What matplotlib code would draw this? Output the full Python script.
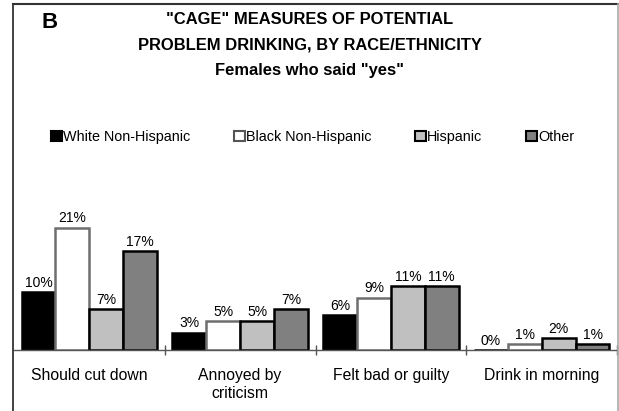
import matplotlib
matplotlib.use("Agg")
import matplotlib.pyplot as plt
import numpy as np
from matplotlib.patches import Rectangle
from matplotlib.lines import Line2D

plt.rcParams['font.family'] = ['Liberation Sans', 'DejaVu Sans']

# Share of females answering "yes" to each CAGE question (%)
questions = ["Should cut down", "Annoyed by\ncriticism", "Felt bad or guilty", "Drink in morning"]
groups = ["White Non-Hispanic", "Black Non-Hispanic", "Hispanic", "Other"]
white = [10, 3, 6, 0]
black = [21, 5, 9, 1]
hispanic = [7, 5, 11, 2]
other = [17, 7, 11, 1]

series = [white, black, hispanic, other]
fills = ["#000000", "#ffffff", "#c0c0c0", "#808080"]
edges = ["#000000", "#6e6e6e", "#000000", "#000000"]

fig = plt.figure(figsize=(6.19, 4.11), dpi=100)
W, H = 619, 411

# outer frame (open at the bottom)
fig.add_artist(Line2D([13 / W, 13 / W], [0, 1 - 4 / H], color="#222222", lw=1.2))
fig.add_artist(Line2D([13 / W, 618 / W], [1 - 4 / H, 1 - 4 / H], color="#333333", lw=1.5))
fig.add_artist(Line2D([618 / W, 618 / W], [0, 1 - 4 / H], color="#aaaaaa", lw=1.2))

fig.text(50 / W, 1 - 22 / H, "B", fontsize=16, fontweight="bold", ha="center", va="center")
title_lines = ['"CAGE" MEASURES OF POTENTIAL',
               'PROBLEM DRINKING, BY RACE/ETHNICITY',
               'Females who said "yes"']
for k, line in enumerate(title_lines):
    fig.text(0.5, 1 - (20 + 25 * k) / H, line, fontsize=11.9, fontweight="bold",
             ha="center", va="center")

ax = fig.add_axes([14 / W, 1 - 350 / H, 603 / W, 175 / H])
n = len(questions)
width = 0.225
x = np.arange(n)
for i, (vals, fc, ec) in enumerate(zip(series, fills, edges)):
    pos = x + (i - 1.5) * width
    bars = ax.bar(pos, vals, width, color=fc, edgecolor=ec, linewidth=1.8, label=groups[i])
    for b, v in zip(bars, vals):
        ax.text(b.get_x() + b.get_width() / 2, v + 0.35, f"{v}%", ha="center", va="bottom",
                fontsize=10)

ax.set_xlim(-0.5, n - 0.5)
ax.set_ylim(0, 30)
for s in ["top", "right", "left"]:
    ax.spines[s].set_visible(False)
ax.spines["bottom"].set_color("#555555")
ax.spines["bottom"].set_linewidth(1.0)
ax.set_yticks([])
ax.set_xticks(np.arange(n) + 0.5)
ax.set_xticklabels([])
ax.tick_params(axis="x", direction="inout", length=7, color="#555555", width=1.0)
for xi, q in zip(x, questions):
    ax.text(xi, -3.1, q, ha="center", va="top", fontsize=11.3, linespacing=1.25)

handles = [Rectangle((0, 0), 1, 1, facecolor=fc, edgecolor=("#555555" if fc == "#ffffff" else "#000000"),
                     linewidth=1.5) for fc in fills]
fig.legend(handles, groups, loc="center", bbox_to_anchor=(0.505, 1 - 137 / H), ncol=4, frameon=False,
           fontsize=10.4, handlelength=0.75, handleheight=0.75, handletextpad=0.1, columnspacing=3.0)

fig.savefig("out.png", dpi=100)
